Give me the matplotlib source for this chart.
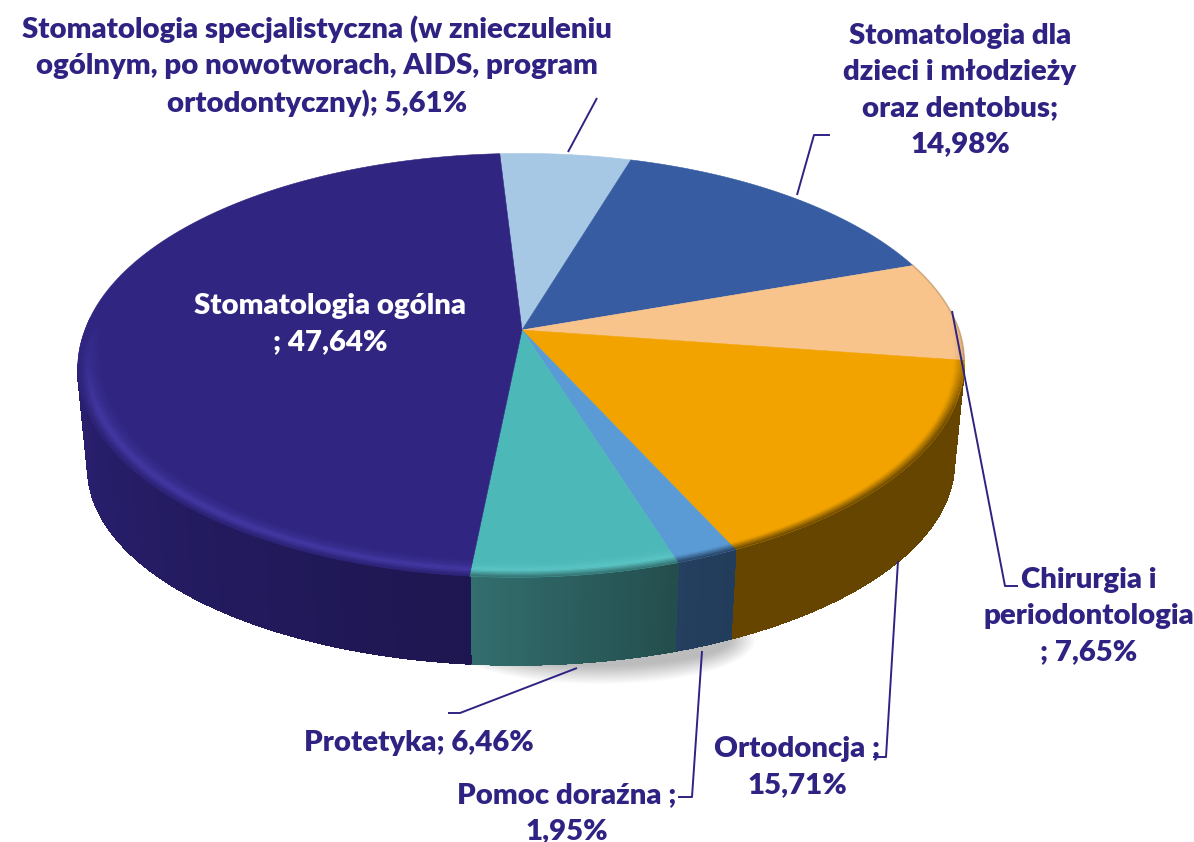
#!/usr/bin/env python3
"""Udzial swiadczen stomatologicznych - wykres kolowy 3D"""
import numpy as np
import matplotlib
matplotlib.use('Agg')
import matplotlib.pyplot as plt
from matplotlib.collections import PolyCollection
from matplotlib.patches import Ellipse, Polygon

plt.rcParams['font.family'] = ['Lato', 'Open Sans', 'DejaVu Sans']

# dane (kolejnosc zgodnie z ruchem wskazowek zegara)
values = [5.61, 14.98, 7.65, 15.71, 1.95, 6.46, 47.64]
label_templates = [
    'Stomatologia specjalistyczna (w znieczuleniu\nogólnym, po nowotworach, AIDS, program\nortodontyczny); {}',
    'Stomatologia dla\ndzieci i młodzieży\noraz dentobus;\n{}',
    'Chirurgia i\nperiodontologia\n; {}',
    'Ortodoncja ;\n{}',
    'Pomoc doraźna ;\n{}',
    'Protetyka; {}',
    'Stomatologia ogólna\n; {}',
]

# kolory
top_colors = ['#a6c8e4', '#375ca2', '#f9c48c', '#f2a300', '#5b9bd5', '#4db8b8', '#302681']
side_colors = ['#6f8699', '#243d6c', '#a6835d', '#654500', '#243f5f', '#336e6e', '#2a2072']
rim_colors = ['#a6c8e4', '#375ca2', '#f9c48c', '#f2a300', '#5b9bd5', '#5cc6c6', '#4439a4']
side_shade = [0, 0, 0, 0, 0.05, 0.3, 0.3]
text_color = '#2e2382'
line_color = '#2e2382'

# geometria (piksele obrazu)
CX, CY = 522, 330
A, B, K = 437, 206, 1 / 6
CY2, A2, B2 = 432, 427, 194
SKEW = 6
START = 93.4


def top_xy(theta, r=1.0):
    u, v = r * np.cos(theta), r * np.sin(theta)
    d = 1 + K * v
    return CX + A * u / d + SKEW * np.minimum(v, 0), CY - B * v / d


def bottom_xy(theta):
    u, v = np.cos(theta), np.sin(theta)
    d = 1 + K * v
    return CX + A2 * u / d + SKEW * np.minimum(v, 0), CY2 - B2 * v / d


def mix(c1, c2, t):
    c1 = np.array(matplotlib.colors.to_rgb(c1))
    c2 = np.array(matplotlib.colors.to_rgb(c2))
    return tuple(c1 * (1 - t) + c2 * t)


fig = plt.figure(figsize=(11.94, 8.42), dpi=100)
ax = fig.add_axes([0, 0, 1, 1])
ax.set_xlim(0, 1194)
ax.set_ylim(842, 0)
ax.axis('off')

# cien pod wykresem
for i in range(14):
    t = i / 13
    ax.add_patch(Ellipse((600, 640), 310 - 50 * t, 88 - 36 * t, facecolor='black',
                         edgecolor='none', alpha=0.02, zorder=1))

angles = np.radians(START - np.concatenate([[0], np.cumsum(values)]) * 3.6)
side_lo, side_hi = np.radians(-170.4), np.radians(-9.6)

for i, val in enumerate(values):
    a0, a1 = angles[i], angles[i + 1]  # a0 > a1
    # sciana boczna - tylko przednia czesc
    lo, hi = max(a1, side_lo), min(a0, side_hi)
    if hi > lo:
        th = np.linspace(lo, hi, max(int(np.degrees(hi - lo)) * 2, 2))
        polys, cols = [], []
        for t0, t1 in zip(th[:-1], th[1:]):
            x0, y0 = top_xy(t0)
            x1, y1 = top_xy(t1)
            x2, y2 = bottom_xy(t1)
            x3, y3 = bottom_xy(t0)
            polys.append([(x0, y0), (x1, y1), (x2, y2), (x3, y3)])
            frac = (t0 - lo) / (hi - lo)
            cols.append(mix(side_colors[i], '#000000', side_shade[i] * frac))
        ax.add_collection(PolyCollection(polys, facecolors=cols, edgecolors=cols,
                                         linewidths=0.8, antialiased=False, zorder=2))
        # wygladzenie dolnej krawedzi
        for t0, t1, c in zip(th[:-1], th[1:], cols):
            xb, yb = bottom_xy(np.array([t0, t1]))
            ax.plot(xb, yb, color=c, linewidth=1.0, zorder=2, solid_capstyle='round')

    # gorna powierzchnia
    th = np.linspace(a1, a0, 120)
    x, y = top_xy(th)
    pts = np.column_stack([np.r_[CX, x], np.r_[CY, y]])
    ax.add_patch(Polygon(pts, closed=True, facecolor=top_colors[i],
                         edgecolor=top_colors[i], linewidth=0.4, zorder=3))

    # rant na przodzie
    radii = np.linspace(0.935, 1.0, 15)
    th = np.linspace(a1, a0, max(int(np.degrees(a0 - a1)), 3) + 1)
    polys, cols = [], []
    for t0, t1 in zip(th[:-1], th[1:]):
        tm = 0.5 * (t0 + t1)
        w = np.clip((-np.sin(tm) + 0.05) / 0.45, 0, 1)
        if w <= 0:
            continue
        for r0, r1 in zip(radii[:-1], radii[1:]):
            rm = 0.5 * (r0 + r1)
            s = (rm - 0.935) / 0.065
            if s < 0.65:
                c = mix(top_colors[i], rim_colors[i], (s / 0.65) ** 2)
            else:
                c = mix(rim_colors[i], side_colors[i], (s - 0.65) / 0.35)
            c = mix(top_colors[i], c, w)
            x0, y0 = top_xy(t0, r0)
            x1, y1 = top_xy(t1, r0)
            x2, y2 = top_xy(t1, r1)
            x3, y3 = top_xy(t0, r1)
            polys.append([(x0, y0), (x1, y1), (x2, y2), (x3, y3)])
            cols.append(c)
    if polys:
        ax.add_collection(PolyCollection(polys, facecolors=cols, edgecolors=cols,
                                         linewidths=0.3, zorder=4))

# ciemniejsza krawedz jasnego wycinka z tylu
peach_th = np.linspace(angles[3], angles[2], 60)
ax.plot(*top_xy(peach_th), color='#a08050', linewidth=1.2, alpha=0.45, zorder=4)

# linie odniesienia
leaders = [
    ([597, 568], [98, 152]),
    ([830, 814, 797], [135, 135, 195]),
    ([952, 1005, 1018], [311, 586, 586]),
    ([898, 886, 873], [561, 757, 757]),
    ([702, 692, 678], [651, 797, 797]),
    ([577, 460, 448], [668, 713, 713]),
]
for xs, ys in leaders:
    ax.plot(xs, ys, color=line_color, linewidth=1.4, zorder=5, solid_capstyle='butt')

# etykiety
label_pos = [(317, 66), (960, 90), (1089, 616), (797, 767), (567, 813), (419, 743), (330, 324)]
for i, (tpl, val) in enumerate(zip(label_templates, values)):
    txt = tpl.format(f'{val:.2f}'.replace('.', ',') + '%')
    color = 'white' if i == len(values) - 1 else text_color
    ax.text(label_pos[i][0], label_pos[i][1], txt, ha='center', va='center',
            fontsize=21.2, fontweight='heavy', color=color, linespacing=1.48,
            zorder=6, clip_on=True)

plt.savefig('out.png', dpi=100)
